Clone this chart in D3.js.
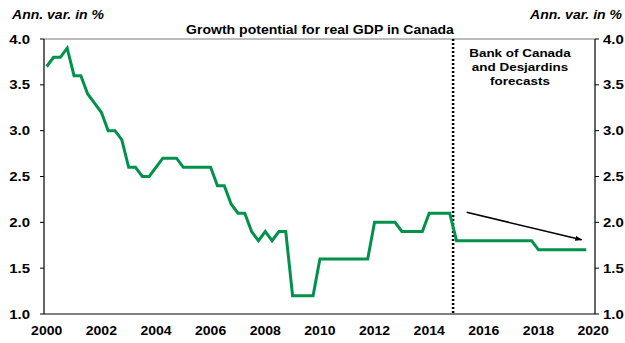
<!DOCTYPE html>
<html>
<head>
<meta charset="utf-8">
<script src="https://cdn.jsdelivr.net/npm/d3@7"></script>
<style>
  html, body { margin: 0; padding: 0; background: #fff; }
  svg { display: block; }
  text { font-family: "Liberation Sans", Arial, sans-serif; font-weight: bold; fill: #000; }
</style>
</head>
<body>
<div id="canvas"></div>
<script>
"use strict";

/**** DATA ****/
let years = [2000, 2001, 2002, 2003, 2004, 2005, 2006, 2007, 2008, 2009,
             2010, 2011, 2012, 2013, 2014, 2015, 2016, 2017, 2018, 2019];

// quarterly growth potential, 4 values per year (Q1..Q4)
let growth = [
    3.7, 3.8, 3.8, 3.9,   // 2000
    3.6, 3.6, 3.4, 3.3,   // 2001
    3.2, 3.0, 3.0, 2.9,   // 2002
    2.6, 2.6, 2.5, 2.5,   // 2003
    2.6, 2.7, 2.7, 2.7,   // 2004
    2.6, 2.6, 2.6, 2.6,   // 2005
    2.6, 2.4, 2.4, 2.2,   // 2006
    2.1, 2.1, 1.9, 1.8,   // 2007
    1.9, 1.8, 1.9, 1.9,   // 2008
    1.2, 1.2, 1.2, 1.2,   // 2009
    1.6, 1.6, 1.6, 1.6,   // 2010
    1.6, 1.6, 1.6, 1.6,   // 2011
    2.0, 2.0, 2.0, 2.0,   // 2012
    1.9, 1.9, 1.9, 1.9,   // 2013
    2.1, 2.1, 2.1, 2.1,   // 2014
    1.8, 1.8, 1.8, 1.8,   // 2015
    1.8, 1.8, 1.8, 1.8,   // 2016
    1.8, 1.8, 1.8, 1.8,   // 2017
    1.7, 1.7, 1.7, 1.7,   // 2018
    1.7, 1.7, 1.7, 1.7    // 2019
];

let xTicks = [2000, 2002, 2004, 2006, 2008, 2010, 2012, 2014, 2016, 2018, 2020];
let yTicks = [1.0, 1.5, 2.0, 2.5, 3.0, 3.5, 4.0];

let forecastStart = 2014.875;                 // boundary between 2014Q4 and 2015Q1
let trendArrow = [[2015.37, 2.11], [2019.58, 1.81]];
let forecastNote = ["Bank of Canada", "and Desjardins", "forecasts"];

let title = "Growth potential for real GDP in Canada";
let unitLabel = "Ann. var. in %";

/**** CONFIGURATION ****/
let svgWidth = 625;
let svgHeight = 343;
let plotLeft = 44;
let plotRight = 595;
let plotTop = 39;
let plotBottom = 314;
let stretch = 1.17;      // the source image text is slightly wider than tall
let green = "#00924b";

let svg = d3.select("#canvas")
    .append("svg")
    .attr("width", svgWidth)
    .attr("height", svgHeight);

/**** SCALES ****/
let xScale = d3.scaleLinear()
    .domain([2000, 2020])
    .range([46.7, 593.1]);

let yScale = d3.scaleLinear()
    .domain([1, 4])
    .range([plotBottom, plotTop]);

// text helper: horizontally stretched label
function label(x, y, txt, size, anchor, italic) {
    return svg.append("text")
        .attr("transform", `translate(${x},${y}) scale(${stretch},1)`)
        .attr("text-anchor", anchor)
        .attr("dominant-baseline", "central")
        .style("font-size", size + "px")
        .style("font-style", italic ? "italic" : "normal")
        .text(txt);
}

/**** PLOT FRAME ****/
svg.append("line")
    .attr("x1", plotLeft).attr("x2", plotRight)
    .attr("y1", plotTop).attr("y2", plotTop)
    .attr("stroke", "#7a7a7a").attr("stroke-width", 1.2);

svg.append("line")
    .attr("x1", plotLeft).attr("x2", plotRight)
    .attr("y1", plotBottom).attr("y2", plotBottom)
    .attr("stroke", "#000").attr("stroke-width", 1.2);

[plotLeft, plotRight].forEach(function(x) {
    svg.append("line")
        .attr("x1", x).attr("x2", x)
        .attr("y1", plotTop).attr("y2", plotBottom)
        .attr("stroke", "#000").attr("stroke-width", 1.2);
});

/**** Y AXES (both sides) ****/
yTicks.forEach(function(v) {
    svg.append("line")
        .attr("x1", plotLeft - 4).attr("x2", plotLeft)
        .attr("y1", yScale(v)).attr("y2", yScale(v))
        .attr("stroke", "#000");
    svg.append("line")
        .attr("x1", plotRight).attr("x2", plotRight + 4)
        .attr("y1", yScale(v)).attr("y2", yScale(v))
        .attr("stroke", "#000");
    label(30, yScale(v), v.toFixed(1), 12.8, "end");
    label(603, yScale(v), v.toFixed(1), 12.8, "start");
});

/**** X AXIS LABELS ****/
xTicks.forEach(function(t) {
    label(xScale(t), 331, `${t}`, 12, "middle");
});

/**** FORECAST DIVIDER ****/
svg.append("line")
    .attr("x1", xScale(forecastStart)).attr("x2", xScale(forecastStart))
    .attr("y1", plotTop).attr("y2", plotBottom)
    .attr("stroke", "#000")
    .attr("stroke-width", 2.5)
    .attr("stroke-dasharray", "2,2");

/**** LINE ****/
let points = growth.map(function(v, i) {
    return { t: years[Math.floor(i / 4)] + (i % 4) / 4, v: v };
});

let line = d3.line()
    .x(function(d) { return xScale(d.t); })
    .y(function(d) { return yScale(d.v); });

svg.append("path")
    .datum(points)
    .attr("d", line)
    .attr("fill", "none")
    .attr("stroke", green)
    .attr("stroke-width", 3)
    .attr("stroke-linejoin", "miter");

/**** TREND ARROW ****/
svg.append("defs").append("marker")
    .attr("id", "arrowHead")
    .attr("viewBox", "0 0 10 10")
    .attr("refX", 9).attr("refY", 5)
    .attr("markerWidth", 7).attr("markerHeight", 5)
    .attr("markerUnits", "userSpaceOnUse")
    .attr("orient", "auto")
    .attr("preserveAspectRatio", "none")
    .append("path")
    .attr("d", "M0,0 L10,5 L0,10 Z")
    .attr("fill", "#000");

svg.append("line")
    .attr("x1", xScale(trendArrow[0][0])).attr("y1", yScale(trendArrow[0][1]))
    .attr("x2", xScale(trendArrow[1][0])).attr("y2", yScale(trendArrow[1][1]))
    .attr("stroke", "#000")
    .attr("stroke-width", 1.5)
    .attr("marker-end", "url(#arrowHead)");

/**** TEXTS ****/
forecastNote.forEach(function(s, i) {
    label(520, 53 + i * 14, s, 11.5, "middle");
});

label(320, 30, title, 12, "middle");
label(12, 15, unitLabel, 12, "start", true);
label(622, 15, unitLabel, 12, "end", true);
</script>
</body>
</html>
